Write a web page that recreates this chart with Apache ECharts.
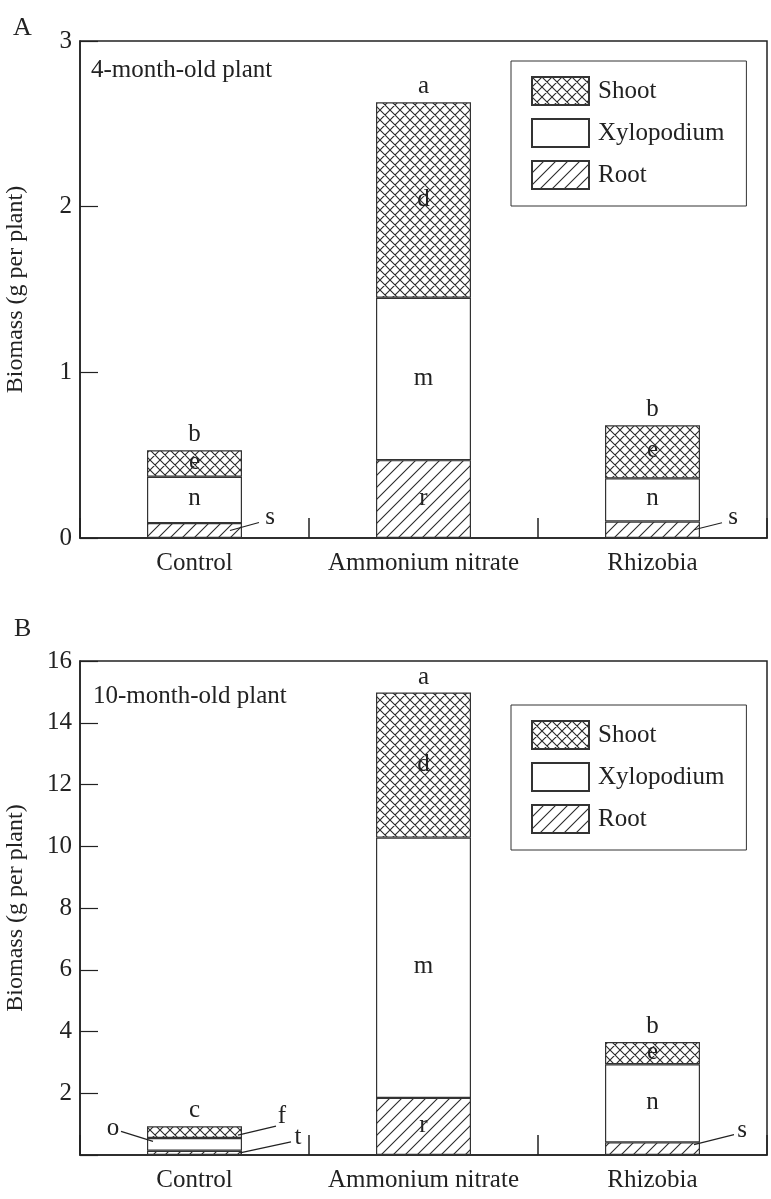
<!DOCTYPE html>
<html><head><meta charset="utf-8">
<script src="https://cdn.jsdelivr.net/npm/echarts@6/dist/echarts.min.js"></script>
<style>html,body{margin:0;padding:0;background:#fff}#c{width:771px;height:1199px}</style>
</head><body><div id="c"></div>
<script>
// ---------- data ----------
const categories = ['Control', 'Ammonium nitrate', 'Rhizobia'];
const seriesNames = ['Shoot', 'Xylopodium', 'Root'];

// Panel A: 4-month-old plant
const rootA  = [0.09, 0.47, 0.10];
const xyloA  = [0.28, 0.98, 0.26];
const shootA = [0.16, 1.18, 0.32];
const topLettersA   = ['b', 'a', 'b'];
const shootLettersA = ['e', 'd', 'e'];
const xyloLettersA  = ['n', 'm', 'n'];
const rootLettersA  = ['s', 'r', 's'];
const yTickLabelsA = ['0', '1', '2', '3'];

// Panel B: 10-month-old plant
const rootB  = [0.14, 1.85, 0.41];
const xyloB  = [0.41, 8.43, 2.53];
const shootB = [0.38, 4.70, 0.72];
const topLettersB   = ['c', 'a', 'b'];
const shootLettersB = ['f', 'd', 'e'];
const xyloLettersB  = ['o', 'm', 'n'];
const rootLettersB  = ['t', 'r', 's'];
const yTickLabelsB = ['', '2', '4', '6', '8', '10', '12', '14', '16'];

const panelTitles = ['4-month-old plant', '10-month-old plant'];
const panelLetters = ['A', 'B'];
const yName = 'Biomass (g per plant)';

// ---------- layout / style ----------
const FONT = 'Liberation Serif';
const INK = '#222';
const BAR_W = 95;
// leader-line placements (pixel offsets from bar edge), key = segment-categoryIndex
const leaderA = {
  'root-0': {side: 'right', sx: -12, sy: 0, ex: 17, ey: -8, lx: 28, ly: -13},
  'root-2': {side: 'right', sx: -6, sy: 0, ex: 22, ey: -7, lx: 33, ly: -12}
};
const leaderB = {
  'shoot-0': {side: 'right', sx: -4, sy: 3, ex: 34, ey: -6, lx: 40, ly: -16},
  'xylo-0':  {side: 'left', sx: 6, sy: -3, ex: -26, ey: -13, lx: -34, ly: -16},
  'root-0':  {side: 'right', sx: -2, sy: 0, ex: 49, ey: -11, lx: 56, ly: -15},
  'root-2':  {side: 'right', sx: -6, sy: -4, ex: 34, ey: -14, lx: 42, ly: -18}
};

function hatch(cross, s) {
  const c = document.createElement('canvas');
  c.width = s; c.height = s;
  const g = c.getContext('2d');
  g.fillStyle = '#fff'; g.fillRect(0, 0, s, s);
  g.strokeStyle = '#2a2a2a'; g.lineWidth = 1.1;
  g.beginPath();
  g.moveTo(-1, s + 1); g.lineTo(s + 1, -1);
  g.moveTo(-1, 1); g.lineTo(1, -1);
  g.moveTo(s - 1, s + 1); g.lineTo(s + 1, s - 1);
  if (cross) {
    g.moveTo(-1, -1); g.lineTo(s + 1, s + 1);
    g.moveTo(s - 1, -1); g.lineTo(s + 1, 1);
    g.moveTo(-1, s - 1); g.lineTo(1, s + 1);
  }
  g.stroke();
  return {image: c, repeat: 'repeat'};
}
const colShoot = hatch(true, 10);
const colRoot = hatch(false, 12);
const colXylo = '#ffffff';

function buildAnnots(root, xylo, shoot, topL, shootL, xyloL, rootL, leaders) {
  const out = [];
  for (let i = 0; i < categories.length; i++) {
    const total = root[i] + xylo[i] + shoot[i];
    out.push({cat: i, val: total, text: topL[i], mode: 'top'});
    const segs = [
      ['shoot', root[i] + xylo[i] + shoot[i] / 2, shootL[i]],
      ['xylo', root[i] + xylo[i] / 2, xyloL[i]],
      ['root', root[i] / 2, rootL[i]]
    ];
    segs.forEach(s => {
      const L = leaders[s[0] + '-' + i];
      out.push({cat: i, val: s[1], text: s[2], mode: L ? 'leader' : 'in', L: L});
    });
  }
  return out;
}
const annotsA = buildAnnots(rootA, xyloA, shootA, topLettersA, shootLettersA, xyloLettersA, rootLettersA, leaderA);
const annotsB = buildAnnots(rootB, xyloB, shootB, topLettersB, shootLettersB, xyloLettersB, rootLettersB, leaderB);

function txt(t, x, y, va) {
  return {type: 'text', style: {text: t, x: x, y: y, align: 'center', verticalAlign: va,
    font: '25px "' + FONT + '"', fill: INK}};
}
function annotSeries(annots, gi) {
  return {
    type: 'custom', xAxisIndex: gi, yAxisIndex: gi, silent: true, clip: false, z: 10,
    data: annots.map(a => [a.cat, a.val]),
    renderItem: function (params, api) {
      const a = annots[params.dataIndex];
      const p = api.coord([api.value(0), api.value(1)]);
      if (a.mode === 'top') return txt(a.text, p[0], p[1] - 3, 'bottom');
      if (a.mode === 'in') return txt(a.text, p[0], p[1] - 1, 'middle');
      const L = a.L;
      const ex = p[0] + (L.side === 'right' ? BAR_W / 2 : -BAR_W / 2);
      return {type: 'group', children: [
        {type: 'line', shape: {x1: ex + L.sx, y1: p[1] + L.sy, x2: ex + L.ex, y2: p[1] + L.ey},
          style: {stroke: INK, lineWidth: 1.2}},
        txt(a.text, ex + L.lx, p[1] + L.ly, 'middle')
      ]};
    }
  };
}

function barSeries(name, data, color, gi) {
  return {
    type: 'bar', name: name, stack: 'st' + gi, xAxisIndex: gi, yAxisIndex: gi,
    data: data, barWidth: BAR_W, silent: true,
    itemStyle: {color: color, borderColor: '#333', borderWidth: 1.2}
  };
}

function xAxis(gi) {
  return {
    type: 'category', gridIndex: gi, data: categories,
    axisLine: {lineStyle: {color: INK, width: 1.5}},
    axisTick: {show: true, inside: true, alignWithLabel: false, interval: 0, length: 20,
      lineStyle: {color: INK, width: 1.5}},
    axisLabel: {fontFamily: FONT, fontSize: 25, color: INK, margin: 13, interval: 0}
  };
}
function yAxis(gi, max, interval, labels) {
  return {
    type: 'value', gridIndex: gi, min: 0, max: max, interval: interval,
    name: yName, nameLocation: 'middle', nameGap: 52,
    nameTextStyle: {fontFamily: FONT, fontSize: 24, color: INK},
    axisLine: {show: true, lineStyle: {color: INK, width: 1.5}},
    axisTick: {show: true, inside: true, length: 18, lineStyle: {color: INK, width: 1.2}},
    splitLine: {show: false},
    axisLabel: {fontFamily: FONT, fontSize: 25, color: INK, margin: 8,
      formatter: v => labels[Math.round(v / interval)]}
  };
}
function legend(top) {
  return {
    data: seriesNames, orient: 'vertical', left: 511, top: top,
    itemWidth: 57, itemHeight: 28, itemGap: 12, icon: 'rect', selectedMode: false,
    padding: [15, 22, 16, 20], borderColor: '#333', borderWidth: 1,
    textStyle: {fontFamily: FONT, fontSize: 25, color: INK, padding: [0, 0, 0, 4]}
  };
}

const chart = echarts.init(document.getElementById('c'), null, {renderer: 'canvas'});
chart.setOption({
  backgroundColor: '#fff',
  animation: false,
  grid: [
    {left: 80, top: 41, width: 687, height: 497, show: true, borderColor: INK, borderWidth: 1.5,
      containLabel: false, outerBoundsMode: 'none'},
    {left: 80, top: 661, width: 687, height: 494, show: true, borderColor: INK, borderWidth: 1.5,
      containLabel: false, outerBoundsMode: 'none'}
  ],
  xAxis: [xAxis(0), xAxis(1)],
  yAxis: [yAxis(0, 3, 1, yTickLabelsA), yAxis(1, 16, 2, yTickLabelsB)],
  legend: [legend(61), legend(705)],
  graphic: [
    {type: 'text', left: 13, top: 15, style: {text: panelLetters[0], font: '26px "' + FONT + '"', fill: INK}},
    {type: 'text', left: 14, top: 616, style: {text: panelLetters[1], font: '26px "' + FONT + '"', fill: INK}},
    {type: 'text', left: 91, top: 58, style: {text: panelTitles[0], font: '25px "' + FONT + '"', fill: INK}},
    {type: 'text', left: 93, top: 684, style: {text: panelTitles[1], font: '25px "' + FONT + '"', fill: INK}}
  ],
  series: [
    barSeries('Root', rootA, colRoot, 0),
    barSeries('Xylopodium', xyloA, colXylo, 0),
    barSeries('Shoot', shootA, colShoot, 0),
    barSeries('Root', rootB, colRoot, 1),
    barSeries('Xylopodium', xyloB, colXylo, 1),
    barSeries('Shoot', shootB, colShoot, 1),
    annotSeries(annotsA, 0),
    annotSeries(annotsB, 1)
  ]
});
</script>
</body></html>
